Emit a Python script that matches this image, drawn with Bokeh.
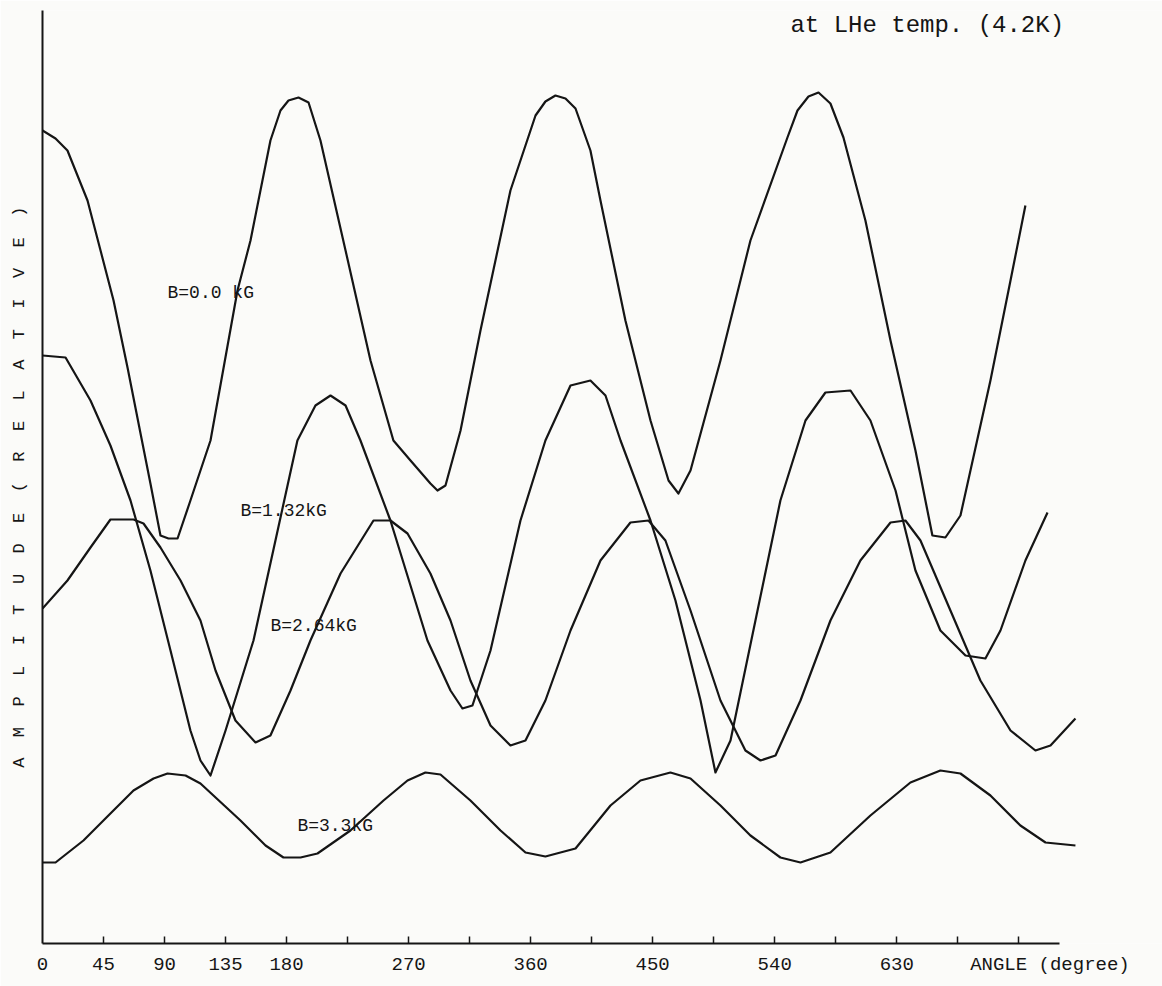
from bokeh.plotting import figure
from bokeh.models import Range1d, FixedTicker, Label
from bokeh.core.properties import value
from bokeh.embed import file_html
from bokeh.resources import INLINE

# ---- data (angle in degrees, relative amplitude) ----
b00_angle = [0, 9.6, 18.4, 33.2, 42.8, 52.4, 62.7, 72.3, 79.6, 87, 92.9, 99.6, 109.1, 123.9, 143.8, 153.4,
             168.1, 175.5, 181.4, 188.8, 196.2, 205, 223.5, 241.9, 258.8, 271.4, 286.1, 291.3, 297.2, 308.3,
             323, 345.1, 363.6, 370.9, 378.3, 385.7, 393.1, 404.1, 411.5, 429.9, 448.4, 461.7, 469, 477.9,
             500, 522.1, 549.4, 556.8, 564.9, 572.3, 581.1, 590.7, 606.9, 625.4, 643.8, 656.3, 665.9, 677,
             699.1, 713.9, 724.9]
b00_amp = [81.3, 80.5, 79.3, 74.3, 69.3, 64.3, 57.6, 51.0, 46.0, 40.8, 40.5, 40.5, 44.3, 50.3, 65.3, 70.3,
           80.3, 83.3, 84.3, 84.6, 84.1, 80.3, 69.3, 58.3, 50.3, 48.3, 46.0, 45.3, 45.8, 51.3,
           61.3, 75.3, 82.8, 84.2, 84.8, 84.5, 83.5, 79.3, 74.3, 62.3, 52.3, 46.3, 45.0, 47.3,
           58.3, 70.3, 80.6, 83.3, 84.7, 85.1, 84.0, 80.6, 72.3, 60.3, 49.3, 40.8, 40.6, 42.8,
           56.3, 66.3, 73.8]

b132_angle = [0, 17, 35.4, 50.1, 64.9, 79.6, 94.4, 109.1, 116.5, 123.9, 135, 155.6, 171.8, 188,
              201.3, 212.4, 223.5, 234.5, 256.6, 283.9, 300.9, 309.7, 317.1, 330.4, 352.5, 370.9, 389.4,
              404.1, 415.2, 426.3, 448.4, 466.8, 485.3, 496.3, 507.4, 525.8, 544.2, 562.7, 577.4, 595.9,
              610.6, 629.1, 643.8, 662.2, 680.7, 695.4, 706.5, 724.9, 741.2]
b132_amp = [58.8, 58.6, 54.3, 49.8, 44.3, 37.3, 29.3, 21.3, 18.3, 16.8, 21.3, 30.3, 40.3, 50.3,
            53.8, 54.8, 53.8, 50.3, 42.3, 30.3, 25.3, 23.5, 23.8, 29.3, 42.3, 50.3, 55.8,
            56.3, 54.8, 50.3, 42.3, 34.3, 24.3, 17.1, 20.3, 32.3, 44.3, 52.3, 55.1, 55.3,
            52.3, 45.3, 37.3, 31.3, 28.8, 28.5, 31.3, 38.3, 43.1]

b264_angle = [0, 18.4, 35.4, 50.1, 67.1, 74.5, 87, 101.8, 116.5, 127.6, 142.3, 157.1, 168.1, 182.9, 197.6,
              219.8, 244.1, 256.6, 269.2, 286.1, 300.9, 315.6, 330.4, 345.1, 356.2, 370.9, 389.4, 411.5,
              433.6, 446.9, 459.4, 477.9, 500, 518.4, 529.5, 540.6, 559, 581.1, 603.2, 625.4, 636.4,
              647.5, 669.6, 691.7, 713.9, 732.3, 743.4, 761.8]
b264_amp = [33.5, 36.3, 39.6, 42.4, 42.4, 42.0, 39.6, 36.3, 32.3, 27.3, 22.3, 20.1, 20.8, 25.3, 30.3,
            37.0, 42.3, 42.3, 41.0, 37.0, 32.3, 26.3, 21.8, 19.8, 20.3, 24.3, 31.3, 38.3,
            42.1, 42.3, 40.3, 33.3, 24.3, 19.3, 18.3, 18.8, 24.3, 32.3, 38.3, 42.1, 42.3,
            40.3, 33.3, 26.3, 21.3, 19.3, 19.8, 22.5]

b33_angle = [0, 9.6, 30.2, 50.1, 67.1, 81.9, 92.2, 105.5, 116.5, 146, 164.5, 177.7, 190.3, 202.8, 227.1,
             251.5, 269.2, 282.4, 293.5, 315.6, 337.8, 356.2, 370.9, 393.1, 418.9, 441, 463.1, 477.9,
             500, 522.1, 544.2, 559, 581.1, 610.6, 640.1, 662.2, 677, 699.1, 721.2, 739.7, 761.8]
b33_amp = [8.1, 8.1, 10.3, 13.0, 15.3, 16.5, 17.0, 16.8, 16.0, 12.3, 9.8, 8.6, 8.6, 9.0, 11.3,
           14.3, 16.3, 17.1, 16.9, 14.3, 11.3, 9.1, 8.7, 9.5, 13.8, 16.3, 17.1, 16.5,
           13.8, 10.8, 8.6, 8.1, 9.1, 12.8, 16.1, 17.3, 17.0, 14.8, 11.8, 10.1, 9.8]

curve_labels = ["B=0.0 kG", "B=1.32kG", "B=2.64kG", "B=3.3kG"]
label_angle = [92.2, 146, 168.1, 188]
label_amp = [65.1, 43.3, 31.8, 11.8]

tick_values = [0, 45, 90, 135, 180, 270, 360, 450, 540, 630, 743]
tick_overrides = {743: "ANGLE (degree)"}
minor_tick_values = [45, 90, 135, 180, 225, 270, 315, 360, 405, 450, 495, 540, 585, 630, 675, 720]

y_title = "\u00a0\u00a0".join(list("AMPLITUDE(RELATIVE)")) + "\u00a0\u00a0"
note = "at LHe temp. (4.2K)"

BG = "#fbfbf9"
INK = "#151515"
MONO = "Liberation Mono"

p = figure(width=1162, height=986, output_backend="svg", toolbar_location=None,
           x_range=Range1d(0, 826), y_range=Range1d(0, 93.3),
           min_border_left=42, min_border_right=0, min_border_top=10, min_border_bottom=43,
           background_fill_color=BG, border_fill_color=BG, outline_line_color=None)
p.grid.visible = False

# x axis: visible marks from minor ticks, labels from major ticks
p.xaxis.ticker = FixedTicker(ticks=tick_values, minor_ticks=minor_tick_values)
p.xaxis.major_label_overrides = tick_overrides
p.xaxis.bounds = (0, 750)
p.xaxis.axis_line_color = INK
p.xaxis.axis_line_width = 2
p.xaxis.major_tick_in = 0
p.xaxis.major_tick_out = 0
p.xaxis.minor_tick_in = 7
p.xaxis.minor_tick_out = 0
p.xaxis.minor_tick_line_color = INK
p.xaxis.minor_tick_line_width = 1.5
p.xaxis.major_label_text_font = MONO
p.xaxis.major_label_text_font_size = "19px"
p.xaxis.major_label_text_color = INK
p.xaxis.major_label_standoff = 10

# y axis: plain line with title, no ticks
p.yaxis.ticker = FixedTicker(ticks=[])
p.yaxis.axis_line_color = INK
p.yaxis.axis_line_width = 2
p.yaxis.major_label_text_font_size = "0px"
p.yaxis.major_tick_out = 0
p.yaxis.major_tick_in = 0
p.yaxis.axis_label = y_title
p.yaxis.axis_label_text_font = MONO
p.yaxis.axis_label_text_font_size = "17px"
p.yaxis.axis_label_text_font_style = "normal"
p.yaxis.axis_label_text_color = INK
p.yaxis.axis_label_standoff = 14

for xs, ys in [(b00_angle, b00_amp), (b132_angle, b132_amp), (b264_angle, b264_amp), (b33_angle, b33_amp)]:
    p.line(xs, ys, line_color=INK, line_width=2.2, line_join="round")

p.text(x=label_angle, y=label_amp, text=curve_labels, text_font=value(MONO),
       text_font_size="18px", text_color=INK, text_align="left", text_baseline="middle")

p.add_layout(Label(x=551.6, y=91.8, text=note, text_font=MONO,
                   text_font_size="24px", text_color=INK, text_align="left", text_baseline="middle"))

open("out.html", "w").write(file_html(p, INLINE))
